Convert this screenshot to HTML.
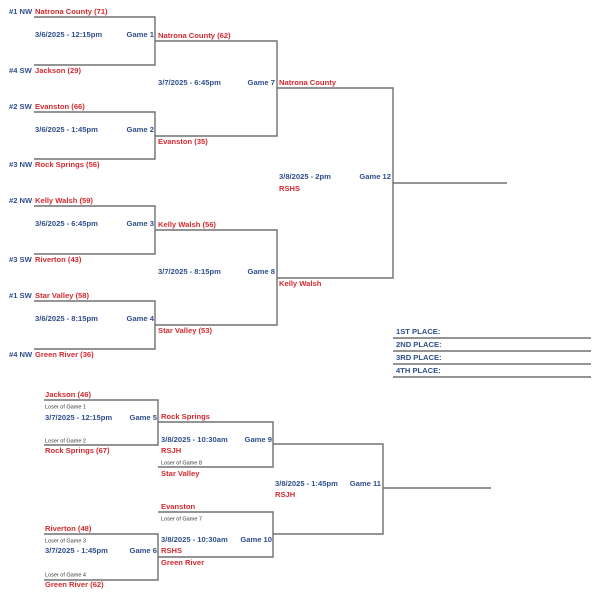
<!DOCTYPE html>
<html><head><meta charset="utf-8"><style>
html,body{margin:0;padding:0;background:#fff;width:600px;height:596px;overflow:hidden}
svg text{font-family:"Liberation Sans",sans-serif;font-weight:bold;font-size:7.6px;dominant-baseline:middle}
.r{fill:#d42a2f}.b{fill:#2f4f8c}.s{font-size:5.5px;font-weight:normal;fill:#333}
.e{text-anchor:end}
</style></head><body>
<svg width="600" height="596" viewBox="0 0 600 596" xmlns="http://www.w3.org/2000/svg">
<g fill="none" stroke="#707070" stroke-width="1.4">
<path d="M34 17H155V65H34"/><path d="M34 112H155V159H34"/>
<path d="M34 206H155V254H34"/><path d="M34 301H155V349H34"/>
<path d="M155 41H277V136H155"/><path d="M155 230H277V325H155"/>
<path d="M277 88H393V278H277"/><path d="M393 183H507"/>
<path d="M393 338H591M393 351H591M393 364H591M393 377H591"/>
<path d="M44 400H158V445H44"/><path d="M44 534H158V580H44"/>
<path d="M158 422H273V467H158"/><path d="M158 512H273V557H158"/>
<path d="M273 444H383V534H273"/><path d="M383 488H491"/>
</g>
<text x="9" y="12" class="b">#1 NW</text><text x="35" y="12" class="r">Natrona County (71)</text>
<text x="35" y="35" class="b">3/6/2025 - 12:15pm</text><text x="154" y="35" class="b e">Game 1</text>
<text x="9" y="71" class="b">#4 SW</text><text x="35" y="71" class="r">Jackson (29)</text>
<text x="9" y="107" class="b">#2 SW</text><text x="35" y="107" class="r">Evanston (66)</text>
<text x="35" y="130" class="b">3/6/2025 - 1:45pm</text><text x="154" y="130" class="b e">Game 2</text>
<text x="9" y="165" class="b">#3 NW</text><text x="35" y="165" class="r">Rock Springs (56)</text>
<text x="9" y="201" class="b">#2 NW</text><text x="35" y="201" class="r">Kelly Walsh (59)</text>
<text x="35" y="224" class="b">3/6/2025 - 6:45pm</text><text x="154" y="224" class="b e">Game 3</text>
<text x="9" y="260" class="b">#3 SW</text><text x="35" y="260" class="r">Riverton (43)</text>
<text x="9" y="296" class="b">#1 SW</text><text x="35" y="296" class="r">Star Valley (58)</text>
<text x="35" y="319" class="b">3/6/2025 - 8:15pm</text><text x="154" y="319" class="b e">Game 4</text>
<text x="9" y="355" class="b">#4 NW</text><text x="35" y="355" class="r">Green River (36)</text>
<text x="158" y="36" class="r">Natrona County (62)</text>
<text x="158" y="83" class="b">3/7/2025 - 6:45pm</text><text x="275" y="83" class="b e">Game 7</text>
<text x="158" y="142" class="r">Evanston (35)</text>
<text x="158" y="225" class="r">Kelly Walsh (56)</text>
<text x="158" y="272" class="b">3/7/2025 - 8:15pm</text><text x="275" y="272" class="b e">Game 8</text>
<text x="158" y="331" class="r">Star Valley (53)</text>
<text x="279" y="83" class="r">Natrona County</text>
<text x="279" y="177" class="b">3/8/2025 - 2pm</text><text x="391" y="177" class="b e">Game 12</text>
<text x="279" y="189" class="r">RSHS</text>
<text x="279" y="284" class="r">Kelly Walsh</text>
<text x="396" y="332" class="b">1ST PLACE:</text><text x="396" y="345" class="b">2ND PLACE:</text>
<text x="396" y="358" class="b">3RD PLACE:</text><text x="396" y="371" class="b">4TH PLACE:</text>
<text x="45" y="395" class="r">Jackson (46)</text>
<text x="45" y="407" class="s">Loser of Game 1</text>
<text x="45" y="418" class="b">3/7/2025 - 12:15pm</text><text x="157" y="418" class="b e">Game 5</text>
<text x="45" y="441" class="s">Loser of Game 2</text>
<text x="45" y="451" class="r">Rock Springs (67)</text>
<text x="161" y="417" class="r">Rock Springs</text>
<text x="161" y="440" class="b">3/8/2025 - 10:30am</text><text x="272" y="440" class="b e">Game 9</text>
<text x="161" y="451" class="r">RSJH</text>
<text x="161" y="463" class="s">Loser of Game 8</text>
<text x="161" y="474" class="r">Star Valley</text>
<text x="275" y="484" class="b">3/8/2025 - 1:45pm</text><text x="381" y="484" class="b e">Game 11</text>
<text x="275" y="495" class="r">RSJH</text>
<text x="161" y="507" class="r">Evanston</text>
<text x="161" y="519" class="s">Loser of Game 7</text>
<text x="161" y="540" class="b">3/8/2025 - 10:30am</text><text x="272" y="540" class="b e">Game 10</text>
<text x="161" y="551" class="r">RSHS</text>
<text x="161" y="563" class="r">Green River</text>
<text x="45" y="529" class="r">Riverton (48)</text>
<text x="45" y="541" class="s">Loser of Game 3</text>
<text x="45" y="551" class="b">3/7/2025 - 1:45pm</text><text x="157" y="551" class="b e">Game 6</text>
<text x="45" y="575" class="s">Loser of Game 4</text>
<text x="45" y="585" class="r">Green River (62)</text>
</svg>
</body></html>
